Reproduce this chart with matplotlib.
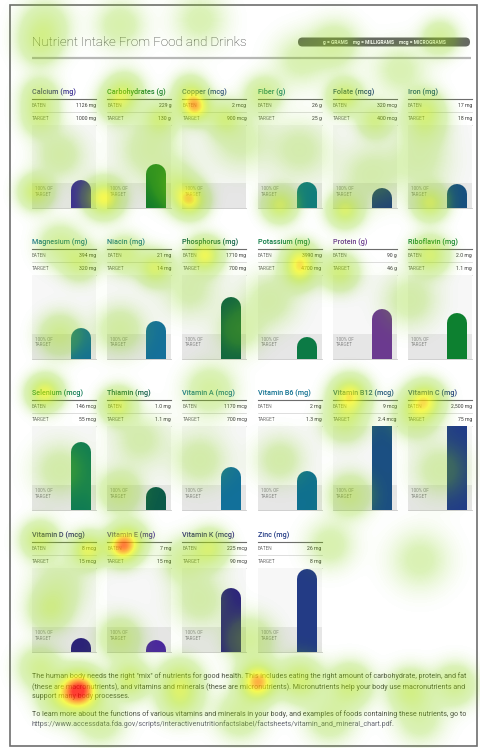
import numpy as np
import matplotlib
matplotlib.use("Agg")
import matplotlib.pyplot as plt
from matplotlib.patches import Rectangle, FancyBboxPatch
from matplotlib.colors import LinearSegmentedColormap

plt.rcParams['font.family'] = ['Roboto', 'DejaVu Sans']

# ---- data ----
names = ["Calcium (mg)", "Carbohydrates (g)", "Copper (mcg)", "Fiber (g)", "Folate (mcg)", "Iron (mg)",
         "Magnesium (mg)", "Niacin (mg)", "Phosphorus (mg)", "Potassium (mg)", "Protein (g)", "Riboflavin (mg)",
         "Selenium (mcg)", "Thiamin (mg)", "Vitamin A (mcg)", "Vitamin B6 (mg)", "Vitamin B12 (mcg)", "Vitamin C (mg)",
         "Vitamin D (mcg)", "Vitamin E (mg)", "Vitamin K (mcg)", "Zinc (mg)"]
eaten = [1126, 229, 2, 26, 320, 17, 394, 21, 1710, 3990, 90, 2.0,
         146, 1.0, 1170, 2, 9, 2500, 8, 7, 225, 26]
target = [1000, 130, 900, 25, 400, 18, 320, 14, 700, 4700, 46, 1.1,
          55, 1.1, 700, 1.3, 2.4, 75, 15, 15, 90, 8]
eaten_txt = ["1126", "229", "2", "26", "320", "17", "394", "21", "1710", "3990", "90", "2.0",
             "146", "1.0", "1170", "2", "9", "2,500", "8", "7", "225", "26"]
target_txt = ["1000", "130", "900", "25", "400", "18", "320", "14", "700", "4700", "46", "1.1",
              "55", "1.1", "700", "1.3", "2.4", "75", "15", "15", "90", "8"]
colors = ["#3b2c96", "#117a2c", "#2d4a86", "#0f7a80", "#1f3f7a", "#17507f",
          "#136f95", "#15709a", "#0b5e45", "#0c7a45", "#6b3a8f", "#0d8030",
          "#0f7b55", "#0b5a48", "#12709a", "#0f7090", "#1b4f82", "#213c88",
          "#2a1f7a", "#4a25a0", "#2a1f80", "#233b85"]

paragraph = [
    'The human body needs the right "mix" of nutrients for good health. This includes eating the right amount of carbohydrate, protein, and fat',
    '(these are macronutrients), and vitamins and minerals (these are micronutrients). Micronutrients help your body use macronutrients and',
    'support many body processes.',
    'To learn more about the functions of various vitamins and minerals in your body, and examples of foods containing these nutrients, go to',
    'https://www.accessdata.fda.gov/scripts/interactivenutritionfactslabel/factsheets/vitamin_and_mineral_chart.pdf.',
]

# gaze heatmap points: x, y, weight, spread (pixels)
hx = [45, 40, 120, 335, 440, 300, 200, 400,
      40, 40, 118, 160, 125, 190, 195, 225, 263, 345, 375, 425, 425,
      36, 104, 190, 175, 280, 345, 430, 60, 150, 300, 420, 240, 370,
      60, 80, 60, 125, 155, 205, 300, 300, 340, 430, 120, 270, 410, 240, 190,
      45, 118, 210, 350, 345, 425, 415, 120, 350, 60, 200, 280, 440, 140,
      40, 88, 122, 130, 210, 185, 50, 120, 250, 200, 330, 420, 60,
      40, 80, 60, 130, 180, 258, 300, 350, 410, 455, 180, 240, 330, 100, 420]
hy = [25, 45, 25, 45, 38, 60, 20, 70,
      96, 118, 103, 118, 90, 92, 107, 118, 95, 97, 120, 108, 125,
      192, 198, 200, 185, 205, 210, 203, 155, 150, 150, 160, 140, 175,
      245, 262, 335, 255, 268, 255, 258, 272, 272, 255, 330, 300, 300, 330, 290,
      393, 405, 390, 395, 420, 400, 415, 492, 495, 470, 460, 460, 470, 440,
      540, 550, 547, 540, 548, 560, 610, 638, 640, 600, 545, 560, 585,
      668, 690, 698, 680, 680, 682, 680, 685, 690, 685, 700, 715, 718, 720, 720]
hw = [0.2, 0.2, 0.15, 0.18, 0.22, 0.12, 0.12, 0.12,
      0.25, 0.25, 0.35, 0.32, 0.25, 0.3, 0.66, 0.3, 0.25, 0.4, 0.3, 0.28, 0.2,
      0.38, 0.6, 0.6, 0.25, 0.42, 0.42, 0.42, 0.15, 0.15, 0.12, 0.12, 0.12, 0.12,
      0.22, 0.3, 0.25, 0.3, 0.42, 0.55, 0.4, 0.4, 0.35, 0.4, 0.18, 0.14, 0.14, 0.14, 0.12,
      0.55, 0.45, 0.2, 0.58, 0.3, 0.52, 0.3, 0.25, 0.25, 0.14, 0.14, 0.14, 0.14, 0.12,
      0.35, 0.5, 0.66, 0.3, 0.38, 0.22, 0.25, 0.25, 0.22, 0.14, 0.14, 0.12, 0.14,
      0.25, 0.95, 0.3, 0.38, 0.32, 0.76, 0.38, 0.32, 0.3, 0.25, 0.28, 0.2, 0.18, 0.18, 0.14]
hs = [16, 14, 16, 16, 12, 18, 18, 18,
      12, 12, 12, 11, 12, 11, 10, 11, 12, 11, 11, 12, 14,
      11, 12, 11, 14, 11, 11, 11, 16, 20, 20, 20, 20, 20,
      14, 12, 14, 12, 11, 11, 11, 11, 12, 12, 16, 18, 18, 16, 18,
      11, 11, 16, 12, 14, 12, 14, 14, 14, 18, 18, 16, 18, 18,
      12, 11, 11, 12, 12, 14, 14, 14, 16, 18, 16, 20, 18,
      14, 13, 14, 12, 14, 12, 14, 14, 14, 14, 14, 16, 16, 16, 16]

# ---- layout (pixels) ----
W, H = 481, 748
col_x0, col_step, col_w = 32, 75.2, 64
title_y = [92, 242, 393, 535]
bottom_y = [208, 359, 510, 652]
ymax = 3.3

fig = plt.figure(figsize=(W / 100, H / 100), dpi=100)
fig.patch.set_facecolor("white")
base = fig.add_axes([0, 0, 1, 1])
base.set_xlim(0, W)
base.set_ylim(H, 0)
base.axis("off")


def px_axes(x0, y0, w, h):
    return fig.add_axes([x0 / W, 1 - (y0 + h) / H, w / W, h / H])


base.add_patch(Rectangle((10, 5), 467, 741, fill=False, ec="#6e6e6e", lw=1.2))
base.text(32, 42, "Nutrient Intake From Food and Drinks", fontsize=9.5, fontweight="light",
          color="#333333", va="center")
base.add_patch(FancyBboxPatch((298, 37.5), 172, 9, boxstyle="round,pad=0,rounding_size=4.5",
                              fc="#666666", ec="none"))
base.text(384, 42.2, "g = GRAMS    mg = MILLIGRAMS    mcg = MICROGRAMS", fontsize=3.5,
          fontweight="bold", color="white", ha="center", va="center")
base.plot([32, 471], [57.5, 57.5], color="#b8b8b8", lw=1.6, solid_capstyle="butt")

for i, name in enumerate(names):
    r, c = divmod(i, 6)
    left = col_x0 + c * col_step
    T, B = title_y[r], bottom_y[r]
    unit = name.split("(")[1].rstrip(")")
    base.text(left, T, name, fontsize=5.2, fontweight="medium", color=colors[i], va="center")
    base.plot([left, left + col_w], [T + 7, T + 7], color="#6d6d6d", lw=0.8)
    base.plot([left, left + col_w], [T + 20, T + 20], color="#d0d0d0", lw=0.5)
    base.plot([left, left + col_w], [T + 33, T + 33], color="#d0d0d0", lw=0.5)
    base.plot([left, left + col_w], [B, B], color="#c8c8c8", lw=0.6)
    base.text(left, T + 13.5, "EATEN", fontsize=3.4, color="#707070", va="center")
    base.text(left, T + 26.5, "TARGET", fontsize=3.4, color="#707070", va="center")
    base.text(left + col_w, T + 13.5, f"{eaten_txt[i]} {unit}", fontsize=3.7, color="#3a3a3a",
              ha="right", va="center")
    base.text(left + col_w, T + 26.5, f"{target_txt[i]} {unit}", fontsize=3.7, color="#3a3a3a",
              ha="right", va="center")

    ph = B - (T + 33)
    ax = px_axes(left, T + 33, col_w, ph)
    ax.set_xlim(0, col_w)
    ax.set_ylim(0, ymax)
    ax.axis("off")
    ax.add_patch(Rectangle((0, 0), col_w, ymax, fc="#f7f7f7", ec="none"))
    ax.axhspan(0, 1.0, color="#e6e6e6", lw=0)
    ax.text(3, 0.78, "100% OF", fontsize=3.3, color="#8a8a8a", va="center")
    ax.text(3, 0.55, "TARGET", fontsize=3.3, color="#8a8a8a", va="center")
    pct = eaten[i] / target[i]
    rad = 10 / (ph / ymax)
    ax.plot([49, 49], [-1, pct - rad], color=colors[i], lw=14.4, solid_capstyle="round")

for k, line in enumerate(paragraph):
    ypos = [676, 687, 697, 714, 724][k]
    base.text(32, ypos, line, fontsize=5.15, color="#666677" if k == 4 else "#4a4a4a", va="center")

# ---- gaze heatmap overlay ----
yy, xx = np.mgrid[0:H, 0:W] + 0.5
dens = np.zeros((H, W))
for x, y, w, s in zip(hx, hy, hw, hs):
    dens += w * np.exp(-((xx - x) ** 2 + (yy - y) ** 2) / (2 * s * s))
heat = LinearSegmentedColormap.from_list("heat", [
    (0.0, (0.45, 0.80, 0.0, 0.0)),
    (0.1, (0.50, 0.82, 0.0, 0.28)),
    (0.35, (0.65, 0.88, 0.0, 0.5)),
    (0.6, (0.95, 0.97, 0.0, 0.68)),
    (0.8, (1.0, 0.55, 0.0, 0.75)),
    (1.0, (1.0, 0.05, 0.0, 0.8)),
])
over = fig.add_axes([0, 0, 1, 1])
over.set_zorder(10)
over.patch.set_visible(False)
over.imshow(np.clip(dens, 0, 1), cmap=heat, vmin=0, vmax=1, extent=(0, W, H, 0),
            interpolation="bilinear")
over.set_xlim(0, W)
over.set_ylim(H, 0)
over.axis("off")

fig.savefig("out.png", dpi=100)
